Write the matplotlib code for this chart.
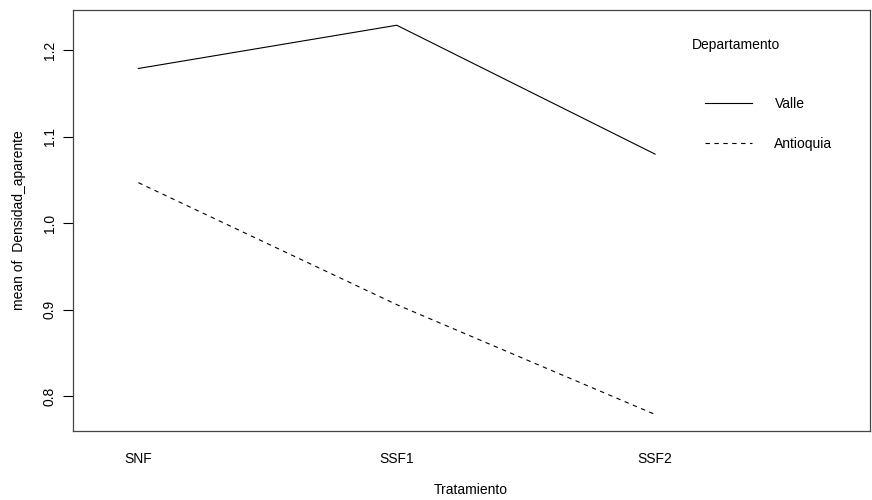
import numpy as np
import matplotlib
matplotlib.use("Agg")
import matplotlib.pyplot as plt

plt.rcParams['font.family'] = ['Liberation Sans', 'DejaVu Sans']

tratamientos = ['SNF', 'SSF1', 'SSF2']
valle = [1.179, 1.229, 1.080]
antioquia = [1.047, 0.906, 0.779]
y_ticks = [0.8, 0.9, 1.0, 1.1, 1.2]

fig = plt.figure(figsize=(8.72, 5.0), dpi=100)
ax = fig.add_axes([72.5 / 872, 1 - 431 / 500, (869.5 - 72.5) / 872, (431 - 9.5) / 500])

x = np.arange(1, len(tratamientos) + 1)
ax.plot(x, valle, color='black', lw=0.8, label='Valle')
ax.plot(x, antioquia, color='black', lw=0.8, linestyle=(0, (4, 4)), label='Antioquia')

ax.set_xlim(0.745, 3.83)
ax.set_ylim(0.7599, 1.2472)

ax.set_xticks(x)
ax.set_xticklabels(tratamientos, fontsize=10)
ax.tick_params(axis='x', length=0, pad=15)
ax.set_yticks(y_ticks)
ax.set_yticklabels([str(v) for v in y_ticks], fontsize=10, rotation=90, va='center')
ax.tick_params(axis='y', length=7, width=0.8, pad=4.5)

for s in ax.spines.values():
    s.set_color('#444444')
    s.set_linewidth(0.9)

ax.set_xlabel('Tratamiento', fontsize=10)
ax.xaxis.set_label_coords(0.5, -52 / 421.5)
ax.set_ylabel('mean of  Densidad_aparente', fontsize=10, labelpad=12)

ax.text(692 / 872, 1 - 45 / 500, 'Departamento', transform=fig.transFigure,
        fontsize=10, va='center', ha='left')
ax.legend(loc='upper left', bbox_to_anchor=(705 / 872, 1 - 97 / 500),
          bbox_transform=fig.transFigure, frameon=False, fontsize=10,
          borderaxespad=0, borderpad=0, handlelength=3.4, handletextpad=1.6,
          labelspacing=1.85)

fig.savefig('out.png', dpi=100)
